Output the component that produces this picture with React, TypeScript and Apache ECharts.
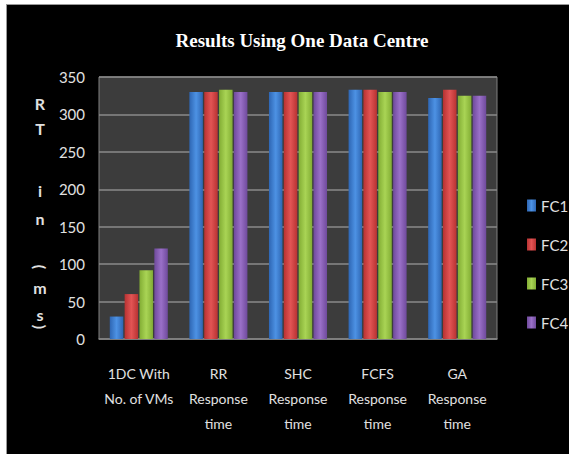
import React, { useEffect, useRef } from "react";
import * as echarts from "echarts";

const categories = [
  "1DC With\nNo. of VMs",
  "RR\nResponse\ntime",
  "SHC\nResponse\ntime",
  "FCFS\nResponse\ntime",
  "GA\nResponse\ntime",
];
const seriesNames = ["FC1", "FC2", "FC3", "FC4"];
const fc1 = [30, 330, 330, 333, 322];
const fc2 = [60, 330, 330, 333, 333];
const fc3 = [92, 333, 330, 330, 325];
const fc4 = [121, 330, 330, 330, 325];
const yTicks = { min: 0, max: 350, interval: 50 };
const titleText = "Results Using One Data Centre";
const yNameChars = ["R", "T", "i", "n", "(", "m", "s", ")"];

const palette = [
  ["#2e66b3", "#4d92e4"],
  ["#b83232", "#e25454"],
  ["#82ad34", "#a9d455"],
  ["#6f4a9c", "#9a70c8"],
];

function grad(c: string[]) {
  return new echarts.graphic.LinearGradient(0, 0, 1, 0, [
    { offset: 0, color: c[0] },
    { offset: 0.5, color: c[1] },
    { offset: 1, color: c[0] },
  ]);
}

export default function App() {
  const ref = useRef<HTMLDivElement>(null);
  useEffect(() => {
    if (!ref.current) return;
    const chart = echarts.init(ref.current, null, { renderer: "svg" });
    const data = [fc1, fc2, fc3, fc4];
    const font = "Lato, 'Open Sans', sans-serif";
    const yPos = [98, 123, 185, 213, 262, 282, 309, 322];
    chart.setOption({
      animation: false,
      backgroundColor: "#000",
      grid: {
        left: 92,
        right: 72,
        top: 72,
        bottom: 115,
        show: true,
        backgroundColor: "#3c3c3c",
        borderColor: "#808080",
        borderWidth: 1,
      },
      legend: {
        orient: "vertical",
        left: 515,
        top: 188,
        itemGap: 24,
        itemWidth: 9,
        itemHeight: 12,
        icon: "rect",
        data: seriesNames,
        textStyle: { color: "#e0e0e0", fontSize: 15, fontFamily: font },
      },
      xAxis: {
        type: "category",
        data: categories,
        axisLine: { lineStyle: { color: "#808080", width: 1.5 } },
        axisTick: { show: false },
        axisLabel: {
          color: "#e0e0e0",
          fontSize: 14,
          fontFamily: font,
          lineHeight: 25,
          margin: 22,
          interval: 0,
        },
      },
      yAxis: {
        type: "value",
        min: yTicks.min,
        max: yTicks.max,
        interval: yTicks.interval,
        axisLine: { show: false },
        axisTick: { show: false },
        splitLine: { lineStyle: { color: "#8a8a8a", width: 1.5 } },
        axisLabel: {
          color: "#e0e0e0",
          fontSize: 15,
          fontFamily: font,
          margin: 14,
        },
      },
      graphic: [
        {
          type: "text",
          x: 295,
          y: 35,
          style: {
            text: titleText,
            fill: "#fff",
            font: "bold 19px 'Liberation Serif', serif",
            textAlign: "center",
            textVerticalAlign: "middle",
          },
        },
        ...yNameChars.map((ch, i) => ({
          type: "text",
          x: 33,
          y: yPos[i],
          rotation: ch === "(" || ch === ")" ? -Math.PI / 2 : 0,
          style: {
            text: ch,
            fill: "#e0e0e0",
            font: "bold 16px Lato, sans-serif",
            textAlign: "center",
            textVerticalAlign: "middle",
          },
        })),
      ],
      series: seriesNames.map((name, i) => ({
        name,
        type: "bar",
        data: data[i],
        barWidth: 13.5,
        barGap: "10%",
        itemStyle: { color: grad(palette[i]) },
      })),
    });
    return () => chart.dispose();
  }, []);
  return (
    <div
      style={{
        position: "fixed",
        left: 0,
        top: 0,
        width: 569,
        height: 454,
        background: "#fff",
      }}
    >
      <div
        style={{
          position: "absolute",
          left: 6,
          top: 4,
          width: 563,
          height: 450,
          background: "#999",
        }}
      />
      <div
        ref={ref}
        style={{ position: "absolute", left: 7, top: 5, width: 562, height: 449 }}
      />
    </div>
  );
}
